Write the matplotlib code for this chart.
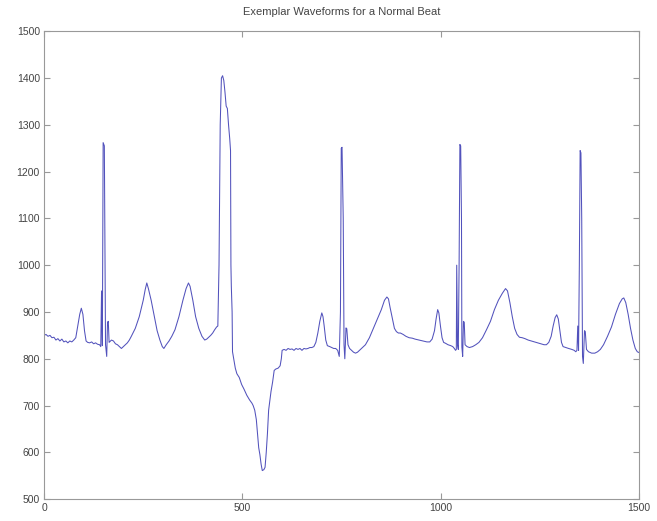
"""Exemplar ECG waveform for a normal beat."""
import matplotlib
matplotlib.use("Agg")
import matplotlib.pyplot as plt

# sample index and amplitude
sample = [
    0, 5, 10, 15, 20, 25, 30, 35, 40, 45, 50, 55, 60, 65, 70, 75, 80, 85, 90, 94,
    98, 102, 106, 110, 115, 120, 125, 130, 135, 140, 143, 145, 147, 149, 152, 155,
    158, 160, 162, 164, 170, 175, 180, 185, 190, 195, 200, 205, 210, 215, 220, 230,
    240, 250, 255, 259, 263, 270, 278, 285, 292, 298, 302, 308, 315, 322, 330, 340,
    350, 358, 364, 368, 375, 382, 390, 398, 405, 410, 415, 420, 425, 430, 435, 438,
    441, 444, 447, 450, 453, 456, 459, 462, 465, 468, 470, 471, 472, 474, 475, 478,
    482, 486, 492, 498, 504, 511, 518, 524, 527, 531, 535, 538, 541, 544, 547, 550,
    554, 557, 560, 563, 566, 569, 572, 576, 580, 584, 590, 595, 598, 600, 605, 610,
    615, 620, 625, 630, 635, 640, 645, 650, 655, 660, 665, 670, 675, 680, 685, 690,
    695, 700, 703, 706, 710, 714, 720, 725, 730, 735, 740, 744, 747, 749, 751, 754,
    756, 758, 761, 763, 766, 770, 775, 780, 785, 790, 795, 800, 810, 820, 830, 840,
    850, 858, 864, 868, 872, 878, 883, 888, 893, 898, 905, 912, 920, 928, 935, 945,
    955, 965, 972, 978, 984, 988, 992, 995, 999, 1003, 1007, 1012, 1018, 1025, 1030,
    1034, 1037, 1039, 1040, 1042, 1044, 1046, 1048, 1050, 1052, 1053, 1055, 1057,
    1059, 1061, 1066, 1072, 1080, 1088, 1096, 1105, 1115, 1125, 1135, 1145, 1155,
    1163, 1168, 1174, 1180, 1186, 1192, 1198, 1205, 1212, 1220, 1228, 1236, 1244,
    1252, 1260, 1266, 1272, 1278, 1283, 1288, 1292, 1296, 1300, 1304, 1308, 1315,
    1322, 1330, 1336, 1340, 1343, 1345, 1347, 1349, 1351, 1353, 1355, 1357, 1359,
    1362, 1364, 1367, 1372, 1380, 1388, 1395, 1402, 1410, 1420, 1430, 1440, 1450,
    1457, 1461, 1466, 1472, 1478, 1484, 1490, 1495, 1500,
]
amplitude = [
    850, 852, 848, 850, 845, 846, 840, 843, 838, 842, 836, 838, 834, 838, 836, 840,
    845, 870, 895, 908, 895, 860, 838, 835, 834, 836, 832, 834, 831, 830, 826, 945,
    828, 1262, 1255, 830, 805, 878, 880, 835, 840, 838, 832, 830, 826, 822, 826, 830,
    834, 840, 848, 865, 890, 925, 948, 962, 950, 925, 890, 860, 840, 826, 822, 830,
    838, 848, 862, 890, 925, 950, 962, 955, 925, 890, 865, 848, 840, 842, 846, 850,
    855, 862, 868, 870, 1000, 1300, 1400, 1405, 1395, 1370, 1340, 1335, 1300, 1270,
    1245, 1000, 955, 900, 815, 800, 780, 768, 760, 745, 735, 722, 712, 705, 700, 690,
    670, 640, 610, 595, 575, 561, 563, 568, 600, 640, 690, 710, 730, 750, 775, 778,
    780, 785, 800, 818, 820, 818, 822, 820, 821, 818, 822, 820, 822, 818, 822, 821,
    822, 824, 824, 826, 835, 855, 880, 898, 890, 870, 840, 828, 826, 824, 822, 822,
    818, 805, 900, 1250, 1252, 1100, 830, 800, 866, 864, 830, 822, 818, 814, 812,
    814, 818, 822, 830, 845, 865, 885, 905, 925, 932, 928, 910, 885, 865, 858, 855,
    855, 852, 848, 845, 844, 842, 840, 838, 836, 836, 842, 860, 885, 905, 898, 870,
    845, 835, 833, 830, 828, 826, 822, 818, 820, 1000, 830, 820, 1000, 1258, 1255,
    1100, 825, 805, 880, 878, 830, 826, 824, 826, 830, 835, 845, 862, 880, 905, 925,
    940, 950, 945, 920, 890, 865, 852, 846, 845, 843, 840, 838, 836, 834, 832, 830,
    830, 835, 848, 870, 888, 894, 885, 860, 835, 826, 824, 822, 820, 818, 815, 818,
    870, 818, 1000, 1245, 1240, 1100, 805, 790, 860, 858, 820, 815, 812, 812, 815,
    820, 830, 848, 868, 895, 918, 928, 930, 920, 895, 865, 840, 822, 815, 813,
]

x_ticks = [0, 500, 1000, 1500]
y_ticks = [500, 600, 700, 800, 900, 1000, 1100, 1200, 1300, 1400, 1500]

plt.rcParams["font.family"] = ["Liberation Sans", "DejaVu Sans"]

fig = plt.figure(figsize=(6.57, 5.21), dpi=100)
ax = fig.add_axes([0.067, 0.042, 0.906, 0.898])

ax.plot(sample, amplitude, color="#5252bc", lw=0.75)

ax.set_xlim(0, 1500)
ax.set_ylim(500, 1500)
ax.set_xticks(x_ticks)
ax.set_yticks(y_ticks)
ax.tick_params(direction="in", top=True, right=True, labelsize=7.5,
               length=4, color="#999999", labelcolor="#444444", pad=3)
for s in ax.spines.values():
    s.set_color("#999999")
    s.set_linewidth(0.8)

ax.set_title("Exemplar Waveforms for a Normal Beat", fontsize=8,
             color="#444444", pad=12)

plt.savefig("out.png", dpi=100)
plt.close(fig)
